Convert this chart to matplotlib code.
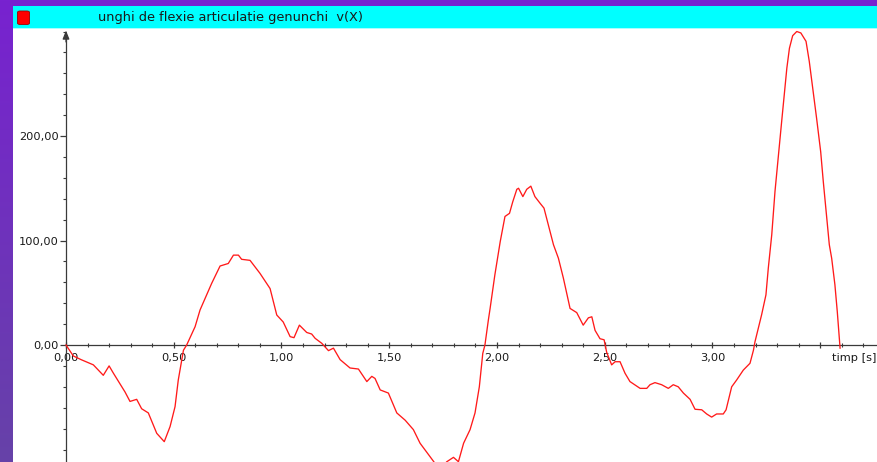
import numpy as np
import matplotlib
matplotlib.use("Agg")
import matplotlib.pyplot as plt
from matplotlib.patches import Rectangle, FancyBboxPatch

# Knee flexion angular velocity over time
t_s = [0.000, 0.034, 0.070, 0.127, 0.173, 0.200, 0.220, 0.250, 0.274, 0.297,
       0.328, 0.351, 0.382, 0.421, 0.456, 0.483, 0.506, 0.521, 0.545, 0.560,
       0.599, 0.622, 0.653, 0.676, 0.715, 0.753, 0.777, 0.800, 0.815, 0.854,
       0.900, 0.947, 0.978, 1.008, 1.040, 1.058, 1.083, 1.117, 1.140, 1.156,
       1.187, 1.218, 1.241, 1.272, 1.318, 1.357, 1.396, 1.419, 1.434, 1.458,
       1.496, 1.535, 1.574, 1.612, 1.643, 1.690, 1.715, 1.740, 1.767, 1.798,
       1.821, 1.845, 1.875, 1.898, 1.918, 1.934, 1.944, 1.960, 1.968, 1.990,
       2.015, 2.037, 2.058, 2.073, 2.092, 2.100, 2.120, 2.138, 2.157, 2.176,
       2.200, 2.218, 2.238, 2.262, 2.285, 2.308, 2.339, 2.370, 2.400, 2.424,
       2.440, 2.455, 2.478, 2.497, 2.509, 2.532, 2.548, 2.571, 2.594, 2.617,
       2.664, 2.695, 2.710, 2.733, 2.764, 2.795, 2.818, 2.841, 2.865, 2.896,
       2.919, 2.950, 2.973, 2.996, 3.019, 3.050, 3.063, 3.089, 3.112, 3.143,
       3.174, 3.190, 3.197, 3.228, 3.248, 3.259, 3.275, 3.290, 3.306, 3.321,
       3.333, 3.345, 3.357, 3.372, 3.391, 3.410, 3.434, 3.449, 3.465, 3.483,
       3.502, 3.514, 3.530, 3.542, 3.553, 3.568, 3.579, 3.590, 3.592]
omega = [0.0, -10.5, -14.0, -19.0, -29.0, -20.0, -27.0, -37.0, -45.0, -54.0,
         -52.0, -61.0, -65.0, -84.5, -92.5, -78.0, -59.0, -33.5, -5.0, 0.0,
         17.5, 33.5, 48.0, 59.0, 75.6, 78.0, 86.0, 86.0, 82.0, 81.0,
         68.6, 54.0, 28.7, 22.0, 8.0, 7.0, 19.0, 12.0, 10.5, 6.4,
         1.6, -5.4, -3.0, -14.0, -22.0, -23.0, -35.0, -30.0, -32.0, -43.0,
         -46.0, -65.0, -72.0, -81.0, -94.0, -107.0, -114.0, -118.0, -111.7, -107.5,
         -111.7, -94.0, -81.0, -65.0, -40.0, -8.0, 0.0, 24.0, 35.0, 67.0,
         99.0, 123.0, 126.0, 137.0, 149.0, 150.0, 142.0, 149.0, 152.0, 142.0,
         135.6, 131.0, 115.0, 96.0, 83.0, 64.0, 35.0, 31.0, 19.0, 26.0,
         27.0, 14.0, 6.0, 5.0, -7.0, -19.0, -16.0, -16.0, -27.0, -35.0,
         -41.5, -41.5, -38.0, -36.0, -38.0, -41.5, -38.0, -40.0, -46.0, -52.0,
         -61.5, -62.0, -66.0, -69.0, -66.0, -66.0, -62.0, -40.0, -33.5, -24.0,
         -17.5, -5.0, 3.0, 29.0, 48.0, 73.7, 105.6, 147.0, 182.0, 214.0,
         239.5, 265.0, 284.0, 296.0, 300.0, 298.6, 290.6, 271.5, 246.0, 217.0,
         185.0, 156.6, 121.5, 96.0, 83.0, 57.7, 32.0, 2.0, -3.0]

x_major = [0.0, 0.5, 1.0, 1.5, 2.0, 2.5, 3.0, 3.5]
x_labels = ["0,00", "0,50", "1,00", "1,50", "2,00", "2,50", "3,00", ""]
y_major = [0, 100, 200]
y_labels = ["0,00", "100,00", "200,00"]
title = "unghi de flexie articulatie genunchi  v(X)"
x_name = "timp [s]"

W, H = 878, 462
FS = 8.2
plt.rcParams["font.family"] = ["DejaVu Sans"]

fig = plt.figure(figsize=(W / 100, H / 100), dpi=100)

# purple backdrop with a soft vertical gradient
bg = fig.add_axes([0, 0, 1, 1])
top_c = np.array([0x78, 0x22, 0xd0]) / 255
bot_c = np.array([0x66, 0x42, 0xa8]) / 255
f = np.linspace(0, 1, 256)[:, None, None]
grad = top_c[None, None, :] * (1 - f) + bot_c[None, None, :] * f
bg.imshow(grad, aspect="auto", extent=[0, 1, 0, 1])
bg.set_axis_off()

# cyan caption strip
fig.patches.append(Rectangle((13 / W, 1 - 28 / H), 1 - 13 / W, 22 / H,
                             transform=fig.transFigure, facecolor="#00ffff",
                             edgecolor="none", zorder=2))
fig.patches.append(Rectangle((13 / W, 1 - 29 / H), 1 - 13 / W, 1 / H,
                             transform=fig.transFigure, facecolor="#a8ffff",
                             edgecolor="none", zorder=2))
fig.patches.append(FancyBboxPatch((17.5 / W, 1 - 24.5 / H), 12 / W, 13.5 / H,
                                  boxstyle="round,pad=0,rounding_size=0.003",
                                  transform=fig.transFigure, facecolor="#ff0000",
                                  edgecolor="#a00000", linewidth=0.6, zorder=3))
fig.text(98 / W, 1 - 17.5 / H, title, fontsize=9.3, color="#1a1a1a",
         va="center", ha="left", zorder=4)

# plot panel
ax = fig.add_axes([13 / W, 0, 1 - 13 / W, 434 / H])
ax.set_facecolor("white")
px_per_s = 215.5
px_per_unit = 1.045
ax.set_xlim((13 - 66) / px_per_s, (W - 66) / px_per_s)
ax.set_ylim(-(H - 345) / px_per_unit, (345 - 28) / px_per_unit)

ax.plot(t_s, omega, color="#ff1a1a", linewidth=0.95, zorder=3,
        solid_joinstyle="round")

axis_c = "#3a3a3a"
for side in ("top", "right"):
    ax.spines[side].set_visible(False)
ax.spines["left"].set_position(("data", 0))
ax.spines["bottom"].set_position(("data", 0))
for side in ("left", "bottom"):
    ax.spines[side].set_color(axis_c)
    ax.spines[side].set_linewidth(0.9)
ax.spines["left"].set_bounds(ax.get_ylim()[0], 296)
ax.spines["bottom"].set_bounds(0, ax.get_xlim()[1])

# arrowhead on the vertical axis
ax.annotate("", xy=(0, 301), xytext=(0, 290),
            arrowprops=dict(arrowstyle="-|>,head_length=0.5,head_width=0.2",
                            color=axis_c, lw=0.9, shrinkA=0, shrinkB=0))

ax.set_xticks(x_major, x_labels)
ax.set_xticks(np.arange(0, 3.75, 0.1), minor=True)
ax.set_yticks(y_major, y_labels)
ax.set_yticks(np.arange(-100, 301, 20), minor=True)

ax.tick_params(axis="x", which="major", direction="inout", length=5,
               width=0.9, color=axis_c, labelsize=FS, labelcolor="#1a1a1a", pad=3)
ax.tick_params(axis="x", which="minor", direction="inout", length=3,
               width=0.8, color=axis_c)
ax.tick_params(axis="y", which="major", direction="out", length=4,
               width=0.9, color=axis_c, labelsize=FS, labelcolor="#1a1a1a", pad=1)
ax.tick_params(axis="y", which="minor", direction="out", length=2.5,
               width=0.8, color=axis_c)

ax.annotate(x_name, xy=((832 - 66) / px_per_s, 0), xytext=(0, -6),
            textcoords="offset points", ha="left", va="top",
            fontsize=FS, color="#1a1a1a")

fig.savefig("out.png", dpi=100)
